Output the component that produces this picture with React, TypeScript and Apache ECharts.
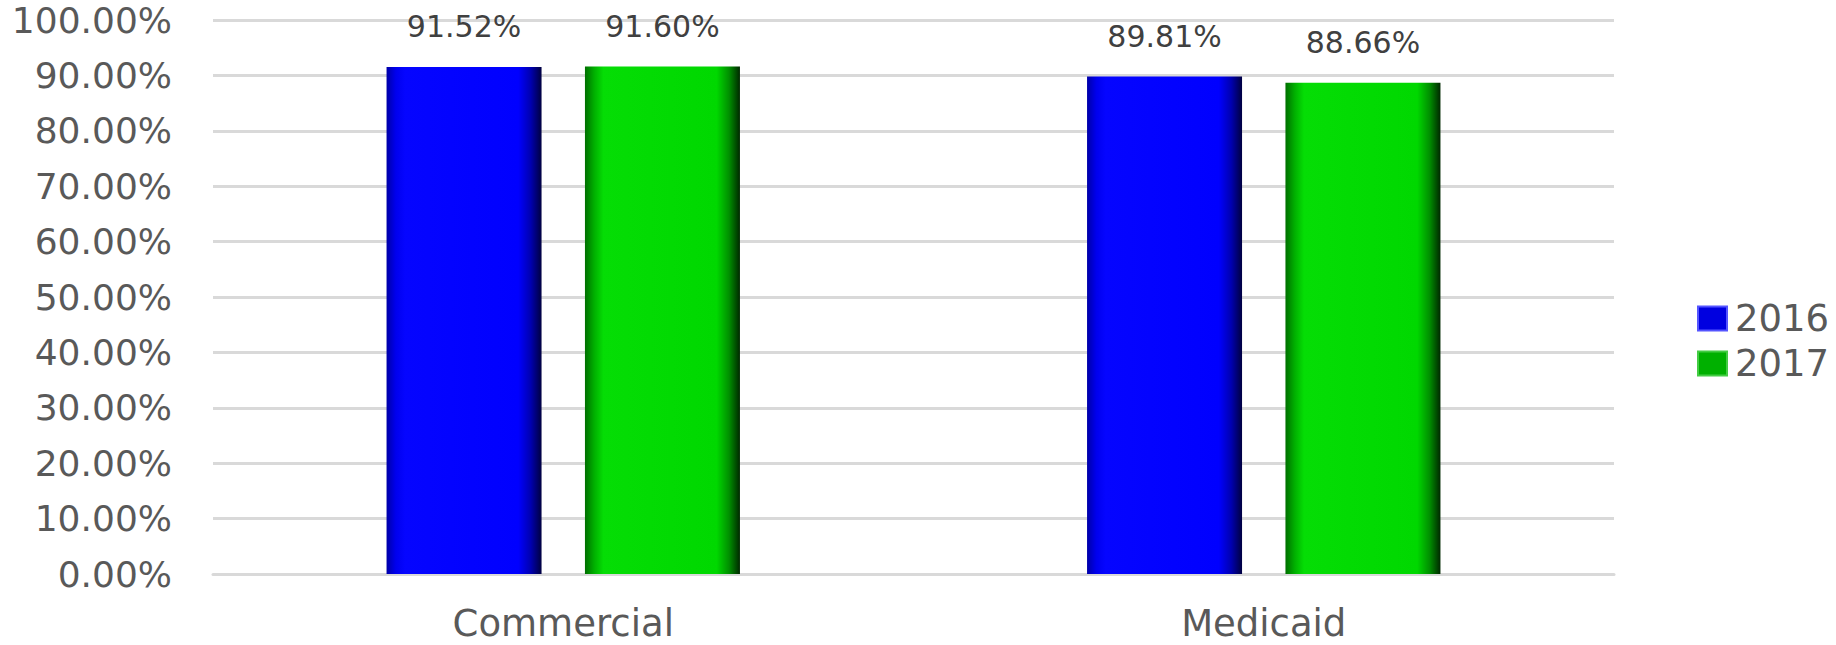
import React, { useEffect, useRef } from "react";
import * as echarts from "echarts";

const categories = ["Commercial", "Medicaid"];
const seriesNames = ["2016", "2017"];
const values2016 = [0.9152, 0.8981];
const values2017 = [0.916, 0.8866];
const yTicks = [0, 0.1, 0.2, 0.3, 0.4, 0.5, 0.6, 0.7, 0.8, 0.9, 1.0];

const pct = (v: number) => (v * 100).toFixed(2) + "%";

const blueFill = new echarts.graphic.LinearGradient(0, 0, 1, 0, [
  { offset: 0, color: "#0000a8" },
  { offset: 0.06, color: "#0000ee" },
  { offset: 0.12, color: "#0505ff" },
  { offset: 0.85, color: "#0000ff" },
  { offset: 0.93, color: "#0000b0" },
  { offset: 1, color: "#000040" },
]);
const greenFill = new echarts.graphic.LinearGradient(0, 0, 1, 0, [
  { offset: 0, color: "#006f00" },
  { offset: 0.06, color: "#00b000" },
  { offset: 0.12, color: "#05dd05" },
  { offset: 0.85, color: "#00d800" },
  { offset: 0.93, color: "#008f00" },
  { offset: 1, color: "#002800" },
]);

const W = 1836;
const H = 645;

export default function App() {
  const ref = useRef<HTMLDivElement>(null);
  useEffect(() => {
    if (!ref.current) return;
    document.body.style.margin = "0";
    document.body.style.overflow = "hidden";
    const chart = echarts.init(ref.current, null, { renderer: "svg", width: W, height: H });
    const labelCfg = {
      show: true,
      position: "top" as const,
      distance: 25,
      formatter: (p: any) => pct(p.value),
      fontFamily: "DejaVu Sans",
      fontSize: 30,
      color: "#404040",
    };
    chart.setOption({
      animation: false,
      backgroundColor: "#ffffff",
      grid: { left: 213, right: 222, top: 20, bottom: 71, containLabel: false },
      legend: {
        orient: "vertical",
        left: 1692,
        top: 295,
        itemWidth: 29,
        itemHeight: 24,
        itemGap: 8,
        icon: "rect",
        textStyle: { fontFamily: "DejaVu Sans", fontSize: 37, color: "#595959", padding: [0, 0, 0, 3] },
        data: [
          { name: seriesNames[0], itemStyle: { color: "#0000e0", borderColor: "#5555ff", borderWidth: 2 } },
          { name: seriesNames[1], itemStyle: { color: "#00b000", borderColor: "#44cc44", borderWidth: 2 } },
        ],
      },
      xAxis: {
        type: "category",
        data: categories,
        axisLine: { show: true, lineStyle: { color: "#d9d9d9", width: 3 } },
        axisTick: { show: false },
        axisLabel: {
          fontFamily: "DejaVu Sans",
          fontSize: 37,
          lineHeight: 36,
          color: "#595959",
          margin: 31,
        },
      },
      yAxis: {
        type: "value",
        min: yTicks[0],
        max: yTicks[yTicks.length - 1],
        interval: 0.1,
        axisLine: { show: false },
        axisTick: { show: false },
        splitLine: { lineStyle: { color: "#d9d9d9", width: 3 } },
        axisLabel: {
          formatter: (v: number) => pct(v),
          fontFamily: "DejaVu Sans",
          fontSize: 36,
          lineHeight: 34,
          color: "#595959",
          margin: 41,
        },
      },
      series: [
        {
          name: seriesNames[0],
          type: "bar",
          data: values2016,
          barWidth: 155,
          barGap: "28%",
          itemStyle: { color: blueFill },
          label: labelCfg,
        },
        {
          name: seriesNames[1],
          type: "bar",
          data: values2017,
          barWidth: 155,
          itemStyle: { color: greenFill },
          label: labelCfg,
        },
      ],
    });
    return () => chart.dispose();
  }, []);
  return <div ref={ref} style={{ width: W, height: H }} />;
}
